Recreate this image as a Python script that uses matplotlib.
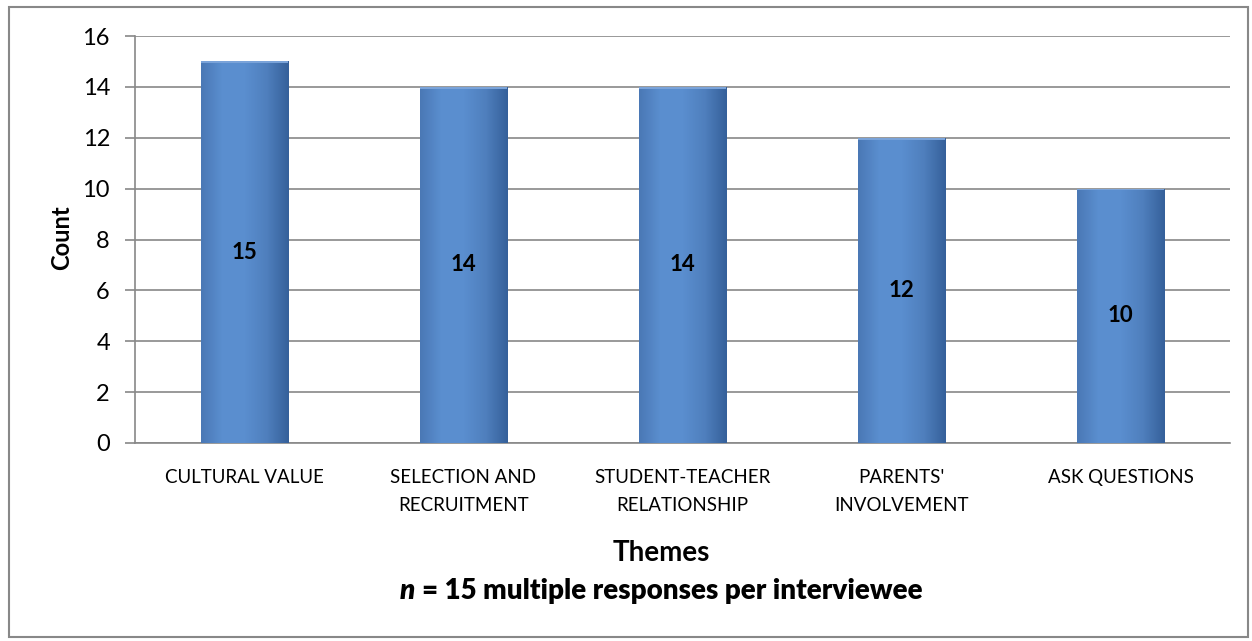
import numpy as np
import matplotlib.pyplot as plt
from matplotlib.patches import Rectangle
from matplotlib.colors import LinearSegmentedColormap

themes = ['CULTURAL VALUE', 'SELECTION AND\nRECRUITMENT', 'STUDENT-TEACHER\nRELATIONSHIP',
          "PARENTS'\nINVOLVEMENT", 'ASK QUESTIONS']
counts = [15, 14, 14, 12, 10]
y_ticks = [0, 2, 4, 6, 8, 10, 12, 14, 16]

plt.rcParams['font.family'] = ['Lato', 'DejaVu Sans']

fig = plt.figure(figsize=(12.52, 6.41), dpi=100)
ax = fig.add_axes([0.1078, 0.3089, 0.8746, 0.6349])

x = np.arange(len(themes))
bars = ax.bar(x, counts, width=0.40, color='#4F81BD', edgecolor='none', zorder=2)

# bevel-ish shading: horizontal gradient clipped to each bar
cmap = LinearSegmentedColormap.from_list('bev', ['#4a78b5', '#5b8fd0', '#5a8ecf', '#4f7fbd', '#35609a'])
grad = np.linspace(0, 1, 256).reshape(1, -1)
for b in bars:
    x0, w, h = b.get_x(), b.get_width(), b.get_height()
    im = ax.imshow(grad, extent=[x0, x0 + w, 0, h], aspect='auto', cmap=cmap, zorder=3)
    im.set_clip_path(b)
    ax.add_patch(Rectangle((x0, h - 0.07), w, 0.07, color='#7aa3d9', zorder=4, lw=0))
    ax.text(x0 + w / 2, h / 2, str(int(h)), ha='center', va='center',
            fontsize=16, fontweight='bold', zorder=5)

ax.set_xlim(-0.5, len(themes) - 0.5)
ax.set_ylim(0, 16)
ax.set_yticks(y_ticks)
ax.set_yticklabels([str(t) for t in y_ticks], fontsize=17)
ax.set_xticks(x)
ax.set_xticklabels(themes, fontsize=13.5, linespacing=1.75)
ax.tick_params(axis='x', length=0, pad=19)
ax.tick_params(axis='y', length=7, color='#888888', width=1.2, pad=11)
ax.yaxis.grid(True, color='#888888', lw=1.2, zorder=0)
ax.set_axisbelow(True)
for s in ['top', 'right']:
    ax.spines[s].set_visible(False)
for s in ['left', 'bottom']:
    ax.spines[s].set_color('#888888')
    ax.spines[s].set_linewidth(1.2)

fig.text(0.0495, 0.629, 'Count', rotation=90, ha='center', va='center', fontsize=17, fontweight='bold')
fig.text(0.528, 0.137, 'Themes', ha='center', va='center', fontsize=20, fontweight='bold')

# footnote: italic bold "n" followed by bold rest, centred together
renderer = fig.canvas.get_renderer()
t_n = fig.text(0, 0.078, 'n', ha='left', va='center', fontsize=20, fontweight='heavy', style='italic')
t_rest = fig.text(0, 0.078, '= 15 multiple responses per interviewee', ha='left', va='center',
                  fontsize=20, fontweight='heavy')
w_n = t_n.get_window_extent(renderer).width / fig.bbox.width
w_rest = t_rest.get_window_extent(renderer).width / fig.bbox.width
gap = 0.006
start = 0.528 - (w_n + gap + w_rest) / 2
t_n.set_x(start)
t_rest.set_x(start + w_n + gap)

fig.add_artist(Rectangle((0.007, 0.006), 0.99, 0.983, transform=fig.transFigure,
                         fill=False, edgecolor='#888888', lw=1.5))

fig.savefig('out.png', dpi=100)
